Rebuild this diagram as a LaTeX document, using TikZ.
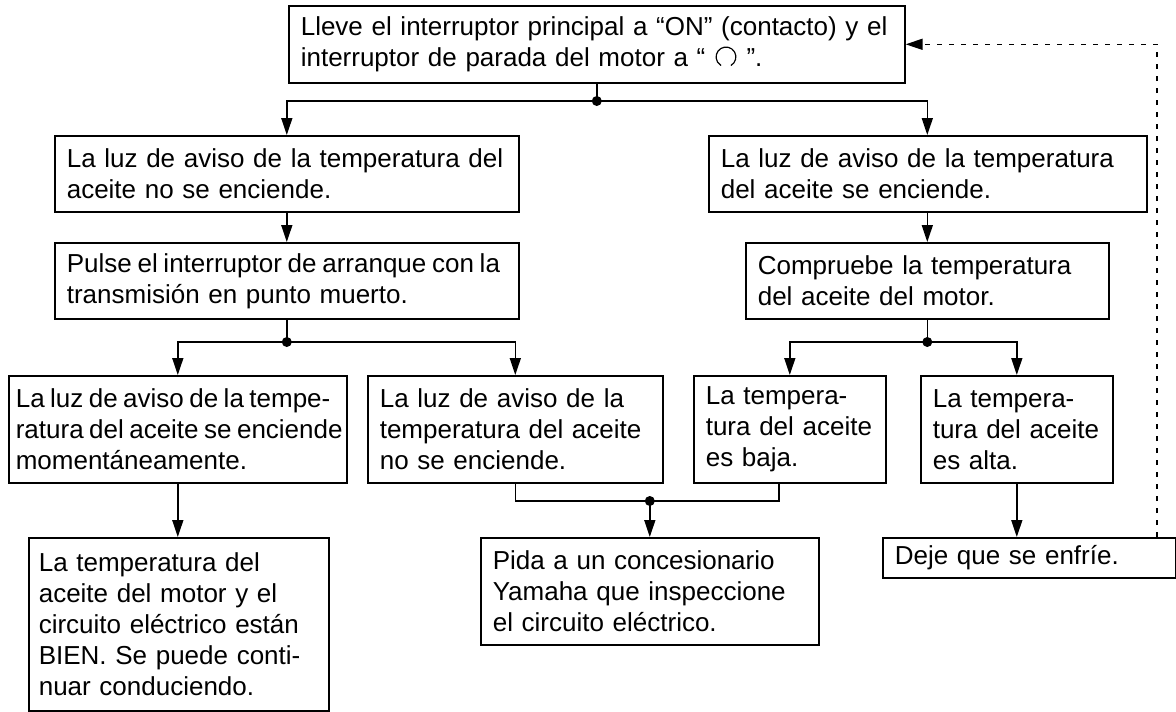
\documentclass[tikz,border=0pt]{standalone}
\usepackage{fontspec}
\setmainfont{Liberation Sans}
\usetikzlibrary{arrows.meta}
\newcommand\fs{\fontsize{26}{31}\selectfont}
\newcommand\stopsym{\tikz[baseline=0pt]{\draw[line width=1.2pt,fill=none] (0.19em,0.04em) arc[start angle=-60,end angle=240,radius=0.38em];}}
\tikzset{
  box/.style={draw, line width=1.6pt, anchor=north west, align=left, inner xsep=12pt, inner ysep=4pt, font=\fs},
  conn/.style={line width=1.6pt},
  arr/.style={conn, -{Triangle[length=17pt,width=11pt]}},
  dashedarr/.style={line width=1.4pt, dash pattern=on 5pt off 7pt, -{Triangle[length=17pt,width=11pt]}},
  dot/.style={circle, fill, inner sep=0pt, minimum size=10pt}
}
\begin{document}
\begin{tikzpicture}[x=1pt,y=-1pt]
\useasboundingbox (0,0) rectangle (1176,712);
% boxes
\node[box, text width=592pt, minimum height=77pt] (T) at (288,5) {\mbox{Lleve el interruptor principal a “ON” (contacto) y el}\\interruptor de parada del motor a “ \stopsym{} ”.};
\node[box, text width=440pt, minimum height=76pt] (A) at (54,135) {\mbox{La luz de aviso de la temperatura del}\\aceite no se enciende.};
\node[box, text width=414pt, minimum height=76pt] (B) at (708,135) {\mbox{La luz de aviso de la temperatura}\\del aceite se enciende.};
\node[box, text width=440pt, minimum height=76pt] (P) at (54,242) {{\spaceskip=0.22em\mbox{Pulse el interruptor de arranque con la}}\\transmisión en punto muerto.};
\node[box, text width=339pt, minimum height=76pt] (K) at (745,242) {\mbox{Compruebe la temperatura}\\del aceite del motor.};
\node[box, inner xsep=7pt, text width=324pt, minimum height=107pt] (C) at (8,375) {\spaceskip=0.21em\mbox{La luz de aviso de la tempe-}\\\mbox{ratura del aceite se enciende}\\momentáneamente.};
\node[box, text width=271pt, minimum height=107pt] (D) at (367,375) {\mbox{La luz de aviso de la}\\\mbox{temperatura del aceite}\\no se enciende.};
\node[box, text width=168pt, minimum height=107pt] (Lw) at (693,375) {La tempera-\\\mbox{tura del aceite}\\es baja.};
\node[box, text width=168pt, minimum height=107pt] (H) at (920,375) {La tempera-\\\mbox{tura del aceite}\\es alta.};
\node[box, inner xsep=10pt, text width=280pt, minimum height=173pt] (E) at (28,537) {La temperatura del\\\mbox{aceite del motor y el}\\\mbox{circuito eléctrico están}\\\mbox{BIEN. Se puede conti-}\\nuar conduciendo.};
\node[box, text width=314pt, minimum height=107pt] (Pd) at (480,537) {\mbox{Pida a un concesionario}\\\mbox{Yamaha que inspeccione}\\el circuito eléctrico.};
\node[box, text width=269pt, minimum height=40pt] (J) at (882,537) {Deje que se enfríe.};
% junction coordinates
\coordinate (y1) at (0,101);
\coordinate (y2) at (0,342);
\coordinate (ym) at (0,501);
\coordinate (xd) at (1157,0);
\coordinate (lwx) at ([xshift=-11pt]Lw.south);
\node[dot] (j1) at (T.south |- y1) {};
\node[dot] (j2) at (P.south |- y2) {};
\node[dot] (j3) at (K.south |- y2) {};
\node[dot] (jm) at (Pd.north |- ym) {};
% connectors
\draw[conn] (T.south) -- (j1.center);
\draw[arr] (j1.center) -| (A.north);
\draw[arr] (j1.center) -| (K.north |- B.north);
\draw[arr] (A.south) -- (P.north);
\draw[arr] (B.south -| K.north) -- (K.north);
\draw[conn] (P.south) -- (j2.center);
\draw[arr] (j2.center) -| (C.north);
\draw[arr] (j2.center) -| (D.north);
\draw[conn] (K.south) -- (j3.center);
\draw[arr] (j3.center) -| (Lw.north);
\draw[arr] (j3.center) -| (H.north);
\draw[arr] (C.south) -- (E.north -| C.south);
\draw[conn] (D.south) |- (lwx |- ym) -- (lwx);
\draw[arr] (jm.center) -- (Pd.north);
\draw[arr] (H.south) -- (J.north -| H.south);
\draw[dashedarr] (J.north -| xd) |- (T.east);
\end{tikzpicture}
\end{document}
